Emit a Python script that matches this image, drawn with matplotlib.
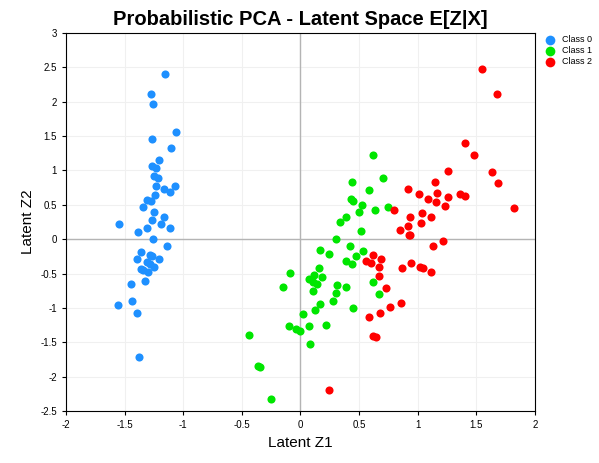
import matplotlib
matplotlib.use("Agg")
import matplotlib.pyplot as plt
import numpy as np

plt.rcParams['font.family'] = ['Liberation Sans', 'DejaVu Sans']

class0_x = [-1.153,-1.275,-1.255,-1.059,-1.269,-1.104,-1.204,-1.264,-1.230,-1.249,-1.218,-1.230,-1.162,-1.068,-1.113,-1.238,-1.312,-1.278,-1.346,-1.247,-1.162,-1.264,-1.187,-1.545,-1.307,-1.113,-1.383,-1.255,-1.136,-1.358,-1.286,-1.269,-1.392,-1.204,-1.307,-1.284,-1.249,-1.363,-1.341,-1.303,-1.443,-1.324,-1.435,-1.554,-1.392,-1.375]
class0_y = [2.40,2.106,1.961,1.553,1.451,1.320,1.146,1.058,1.029,0.917,0.884,0.767,0.728,0.771,0.680,0.636,0.563,0.549,0.461,0.389,0.320,0.272,0.214,0.218,0.170,0.156,0.098,0.010,-0.092,-0.179,-0.223,-0.237,-0.281,-0.281,-0.335,-0.364,-0.403,-0.437,-0.441,-0.470,-0.645,-0.601,-0.902,-0.951,-1.067,-1.718]
class1_x = [0.621,0.706,0.442,0.587,0.431,0.450,0.527,0.749,0.638,0.501,0.391,0.339,0.519,0.305,0.425,0.166,0.246,0.536,0.476,0.391,0.442,0.160,-0.087,0.118,0.181,0.070,0.107,0.143,0.621,-0.147,0.314,0.391,0.109,0.667,0.305,0.280,0.169,0.126,0.450,0.024,0.220,-0.096,0.075,-0.036,-0.002,-0.437,0.084,-0.362,-0.343,-0.249]
class1_y = [1.218,0.884,0.825,0.709,0.578,0.549,0.491,0.461,0.418,0.389,0.330,0.243,0.116,0.010,-0.092,-0.150,-0.208,-0.175,-0.247,-0.320,-0.354,-0.412,-0.485,-0.514,-0.553,-0.582,-0.622,-0.655,-0.616,-0.689,-0.659,-0.689,-0.747,-0.790,-0.776,-0.892,-0.936,-1.023,-1.004,-1.082,-1.242,-1.256,-1.256,-1.300,-1.335,-1.387,-1.518,-1.838,-1.853,-2.319]
class2_x = [1.551,1.678,1.406,1.482,1.261,1.636,1.150,1.687,0.919,1.013,1.167,1.090,1.261,1.363,1.406,1.158,1.235,1.821,0.800,0.936,1.039,1.113,0.914,1.030,0.851,0.923,0.936,1.218,1.133,0.621,0.689,0.559,0.599,0.667,0.868,0.945,1.019,1.042,1.116,0.667,0.732,0.860,0.766,0.681,0.582,0.618,0.646,0.246]
class2_y = [2.470,2.106,1.393,1.218,0.985,0.971,0.825,0.811,0.723,0.651,0.665,0.582,0.607,0.655,0.626,0.534,0.476,0.447,0.418,0.320,0.374,0.316,0.194,0.229,0.127,0.068,0.054,-0.033,-0.092,-0.233,-0.281,-0.320,-0.349,-0.397,-0.412,-0.349,-0.397,-0.412,-0.470,-0.528,-0.703,-0.921,-0.990,-1.067,-1.125,-1.402,-1.426,-2.188]

labels = ["Class 0", "Class 1", "Class 2"]
colors = ["#1E90FF", "#00E600", "#FF0000"]
xticks = [-2, -1.5, -1, -0.5, 0, 0.5, 1, 1.5, 2]
yticks = [-2.5, -2, -1.5, -1, -0.5, 0, 0.5, 1, 1.5, 2, 2.5, 3]

fig = plt.figure(figsize=(5.99, 4.63), dpi=100)
ax = fig.add_axes([0.110, 0.112, 0.783, 0.817])
ax.set_axisbelow(True)
ax.grid(True, color="#f0f0f0", linewidth=0.8)
ax.axhline(0, color="#b4b4b4", linewidth=1, zorder=1.5)
ax.axvline(0, color="#b4b4b4", linewidth=1, zorder=1.5)
for xs, ys, lab, c in zip([class0_x, class1_x, class2_x], [class0_y, class1_y, class2_y], labels, colors):
    ax.scatter(xs, ys, s=34, color=c, label=lab, zorder=3, linewidths=0)
ax.set_xlim(-2, 2)
ax.set_ylim(-2.5, 3)
ax.set_xticks(xticks)
ax.set_yticks(yticks)
ax.set_xticklabels([f"{v:g}" for v in xticks])
ax.set_yticklabels([f"{v:g}" for v in yticks])
ax.tick_params(labelsize=7, length=3)
ax.set_xlabel("Latent Z1", fontsize=11)
ax.set_ylabel("Latent Z2", fontsize=11)
ax.set_title("Probabilistic PCA - Latent Space E[Z|X]", fontsize=14.5, fontweight="bold")
ax.legend(loc="upper left", bbox_to_anchor=(1.0, 1.01), frameon=False, fontsize=6.5,
          handletextpad=0.3, borderaxespad=0.3, labelspacing=0.2, markerscale=1.2)
fig.savefig("out.png", dpi=100)
